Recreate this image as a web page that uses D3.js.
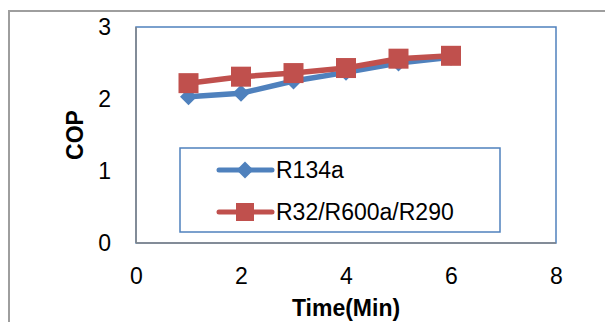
<!DOCTYPE html>
<html>
<head>
<meta charset="utf-8">
<script src="https://cdn.jsdelivr.net/npm/d3@7"></script>
<style>
  body { margin: 0; background: #fff; }
  svg { display: block; font-family: "Liberation Sans", Arial, sans-serif; }
</style>
</head>
<body>
<div id="chart"></div>
<script>
const times = [1, 2, 3, 4, 5, 6];
const r134a = [2.03, 2.08, 2.25, 2.37, 2.5, 2.58];
const blend = [2.22, 2.31, 2.36, 2.43, 2.56, 2.6];
const xTicks = [0, 2, 4, 6, 8];
const yTicks = [0, 1, 2, 3];
const seriesNames = ["R134a", "R32/R600a/R290"];

const width = 605;
const height = 322;
const blue = "#4F81BD";
const red = "#C0504D";

const svg = d3.select("#chart").append("svg")
  .attr("width", width)
  .attr("height", height);

// outer chart border (only top and left visible in the crop)
svg.append("rect")
  .attr("x", 9).attr("y", 11)
  .attr("width", 700).attr("height", 400)
  .attr("fill", "none")
  .attr("stroke", "#9e9e9e")
  .attr("stroke-width", 2);

const x = d3.scaleLinear().domain([0, 8]).range([136, 556]);
const y = d3.scaleLinear().domain([0, 3]).range([243, 27]);

// plot area border
svg.append("rect")
  .attr("x", x(0)).attr("y", y(3))
  .attr("width", x(8) - x(0)).attr("height", y(0) - y(3))
  .attr("fill", "none")
  .attr("stroke", blue)
  .attr("stroke-width", 1.5);

// axes lines
svg.append("line")
  .attr("x1", x(0)).attr("x2", x(0)).attr("y1", y(3)).attr("y2", y(0))
  .attr("stroke", "#868686").attr("stroke-width", 1.5);
svg.append("line")
  .attr("x1", x(0)).attr("x2", x(8)).attr("y1", y(0)).attr("y2", y(0))
  .attr("stroke", "#868686").attr("stroke-width", 1.5);

const xAxis = svg.append("g")
  .attr("transform", `translate(0,${y(0)})`)
  .call(d3.axisBottom(x).tickValues(xTicks).tickFormat(d3.format("d")).tickSize(0).tickPadding(25));
xAxis.select(".domain").remove();
xAxis.selectAll("text").attr("font-size", 23).attr("fill", "#000")
  .attr("font-family", "Liberation Sans, Arial, sans-serif");

const yAxis = svg.append("g")
  .attr("transform", `translate(${x(0)},0)`)
  .call(d3.axisLeft(y).tickValues(yTicks).tickFormat(d3.format("d")).tickSize(0).tickPadding(25));
yAxis.select(".domain").remove();
yAxis.selectAll("text").attr("font-size", 23).attr("fill", "#000")
  .attr("font-family", "Liberation Sans, Arial, sans-serif");

// axis titles
svg.append("text")
  .attr("x", (x(0) + x(8)) / 2)
  .attr("y", 316)
  .attr("text-anchor", "middle")
  .attr("font-size", 23)
  .attr("font-weight", "bold")
  .text("Time(Min)");

svg.append("text")
  .attr("transform", `translate(83,${(y(0) + y(3)) / 2}) rotate(-90)`)
  .attr("text-anchor", "middle")
  .attr("font-size", 23)
  .attr("font-weight", "bold")
  .text("COP");

const line = d3.line().x((d, i) => x(times[i])).y((d) => y(d));
const diamond = "M0,-8.5L8.5,0L0,8.5L-8.5,0Z";

// R134a
svg.append("path")
  .datum(r134a)
  .attr("d", line)
  .attr("fill", "none")
  .attr("stroke", blue)
  .attr("stroke-width", 5.5)
  .attr("stroke-linejoin", "round");
svg.selectAll(".dia")
  .data(r134a)
  .enter()
  .append("path")
  .attr("class", "dia")
  .attr("d", diamond)
  .attr("transform", (d, i) => `translate(${x(times[i])},${y(d)})`)
  .attr("fill", blue);

// R32/R600a/R290
svg.append("path")
  .datum(blend)
  .attr("d", line)
  .attr("fill", "none")
  .attr("stroke", red)
  .attr("stroke-width", 5.5)
  .attr("stroke-linejoin", "round");
svg.selectAll(".sq")
  .data(blend)
  .enter()
  .append("rect")
  .attr("class", "sq")
  .attr("x", (d, i) => x(times[i]) - 10)
  .attr("y", (d) => y(d) - 10)
  .attr("width", 20)
  .attr("height", 20)
  .attr("fill", red);

// legend
const legend = svg.append("g");
legend.append("rect")
  .attr("x", 180).attr("y", 148)
  .attr("width", 320).attr("height", 84)
  .attr("fill", "#fff")
  .attr("stroke", blue)
  .attr("stroke-width", 1.5);

const rows = [
  { name: seriesNames[0], color: blue, y: 170, marker: "diamond" },
  { name: seriesNames[1], color: red, y: 212, marker: "square" }
];
rows.forEach((r) => {
  legend.append("line")
    .attr("x1", 219).attr("x2", 272)
    .attr("y1", r.y).attr("y2", r.y)
    .attr("stroke", r.color)
    .attr("stroke-width", 5)
    .attr("stroke-linecap", "round");
  if (r.marker === "diamond") {
    legend.append("path")
      .attr("d", diamond)
      .attr("transform", `translate(245,${r.y})`)
      .attr("fill", r.color);
  } else {
    legend.append("rect")
      .attr("x", 236).attr("y", r.y - 9)
      .attr("width", 18).attr("height", 18)
      .attr("fill", r.color);
  }
  legend.append("text")
    .attr("x", 276)
    .attr("y", r.y)
    .attr("dy", "0.36em")
    .attr("font-size", 23)
    .text(r.name);
});
</script>
</body>
</html>
